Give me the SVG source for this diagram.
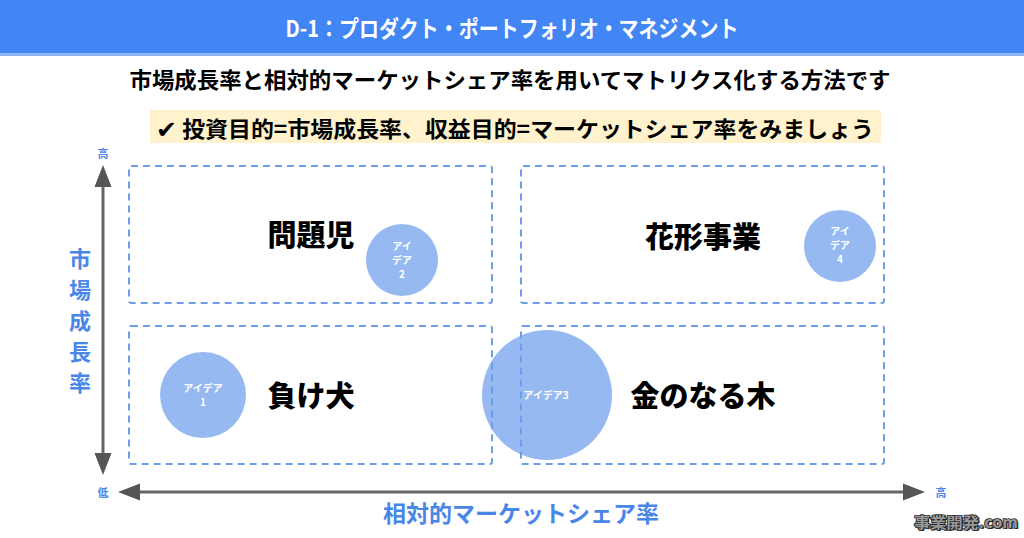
<svg xmlns="http://www.w3.org/2000/svg" width="1024" height="538" viewBox="0 0 1024 538">
<style>
.jp{font-family:"Noto Sans CJK JP","DejaVu Sans",sans-serif;font-weight:bold}
.quad{fill:none;stroke:#6D9EEB;stroke-width:2;stroke-dasharray:7 5}
.bubble{fill:#6D9EEB;fill-opacity:0.72}
.btxt{fill:#fff;font-size:10px;font-weight:bold;text-anchor:middle;font-family:"Noto Sans CJK JP",sans-serif}
.qlabel{fill:#000;font-size:29px;text-anchor:middle;dominant-baseline:central;font-weight:900}
.axis{stroke:#666;stroke-width:3;fill:none}
.hl{fill:#4A86E8;font-size:11px;text-anchor:middle;dominant-baseline:central}
.blue{fill:#4A86E8}
</style>
<rect width="1024" height="538" fill="#fff"/>
<g id="header">
<rect x="0" y="0" width="1024" height="53" fill="#4285F4"/>
<rect x="0" y="53" width="1024" height="3" fill="#8AB4F8"/>
<text class="jp" x="512" y="27" fill="#fff" font-size="23" text-anchor="middle" dominant-baseline="central" textLength="453" lengthAdjust="spacingAndGlyphs">D-1：プロダクト・ポートフォリオ・マネジメント</text>
</g>
<g id="subtitle">
<text class="jp" x="510" y="78" font-size="22" text-anchor="middle" dominant-baseline="central" fill="#000" textLength="761" lengthAdjust="spacingAndGlyphs">市場成長率と相対的マーケットシェア率を用いてマトリクス化する方法です</text>
</g>
<g id="point">
<rect x="150" y="110" width="731" height="33" fill="#FFF2CC"/>
<text class="jp" x="515" y="127" font-size="22" text-anchor="middle" dominant-baseline="central" fill="#000" textLength="718" lengthAdjust="spacingAndGlyphs"><tspan font-size="24">✔</tspan> 投資目的=市場成長率、収益目的=マーケットシェア率をみましょう</text>
</g>
<g id="idea2">
<circle class="bubble" cx="402" cy="260" r="36"/>
<text class="btxt" x="402" y="250">アイ</text>
<text class="btxt" x="402" y="264">デア</text>
<text class="btxt" x="402" y="278">2</text>
</g>
<g id="idea4">
<circle class="bubble" cx="840" cy="246" r="36"/>
<text class="btxt" x="840" y="235">アイ</text>
<text class="btxt" x="840" y="249">デア</text>
<text class="btxt" x="840" y="263">4</text>
</g>
<g id="idea1">
<circle class="bubble" cx="203" cy="395" r="43"/>
<text class="btxt" x="203" y="392">アイデア</text>
<text class="btxt" x="203" y="406">1</text>
</g>
<g id="idea3">
<circle class="bubble" cx="547" cy="395" r="65"/>
<text class="btxt" x="546" y="399">アイデア3</text>
</g>
<g id="q-problem-child">
<rect class="quad" x="129" y="166" width="363" height="137" rx="2"/>
<text class="jp qlabel" x="311" y="233">問題児</text>
</g>
<g id="q-star">
<rect class="quad" x="521" y="166" width="363" height="137" rx="2"/>
<text class="jp qlabel" x="703" y="235">花形事業</text>
</g>
<g id="q-dog">
<rect class="quad" x="129" y="326" width="363" height="138" rx="2"/>
<text class="jp qlabel" x="311" y="394">負け犬</text>
</g>
<g id="q-cashcow">
<rect class="quad" x="521" y="326" width="363" height="138" rx="2"/>
<text class="jp qlabel" x="703" y="394">金のなる木</text>
</g>
<g id="connectors">
<line class="axis" x1="103" y1="186" x2="103" y2="455"/>
<path d="M103,165 L94.5,187 L111.5,187 Z" fill="#555"/>
<path d="M103,475 L94.5,453 L111.5,453 Z" fill="#555"/>
<line class="axis" x1="138" y1="492" x2="905" y2="492"/>
<path d="M118,492 L140,483.5 L140,500.5 Z" fill="#555"/>
<path d="M925,492 L903,483.5 L903,500.5 Z" fill="#555"/>
</g>
<g id="axis-labels">
<text class="jp hl" x="103" y="153">高</text>
<text class="jp hl" x="103" y="492">低</text>
<text class="jp hl" x="941" y="492">高</text>
<g class="jp blue" font-size="22" text-anchor="middle" dominant-baseline="central">
<text x="80" y="257">市</text>
<text x="80" y="288">場</text>
<text x="80" y="319">成</text>
<text x="80" y="350">長</text>
<text x="80" y="381">率</text>
</g>
<text class="jp blue" x="521" y="512" font-size="23" text-anchor="middle" dominant-baseline="central" textLength="276" lengthAdjust="spacingAndGlyphs">相対的マーケットシェア率</text>
</g>
<g id="watermark">
<text class="jp" x="966" y="521" font-size="15" text-anchor="middle" dominant-baseline="central" fill="#333" transform="translate(1.5,1.5)" textLength="104" lengthAdjust="spacingAndGlyphs">事業開発.com</text>
<text class="jp" x="966" y="521" font-size="15" text-anchor="middle" dominant-baseline="central" fill="#999" stroke="#222" stroke-width="1.5" paint-order="stroke" textLength="104" lengthAdjust="spacingAndGlyphs">事業開発.com</text>
</g>
</svg>
